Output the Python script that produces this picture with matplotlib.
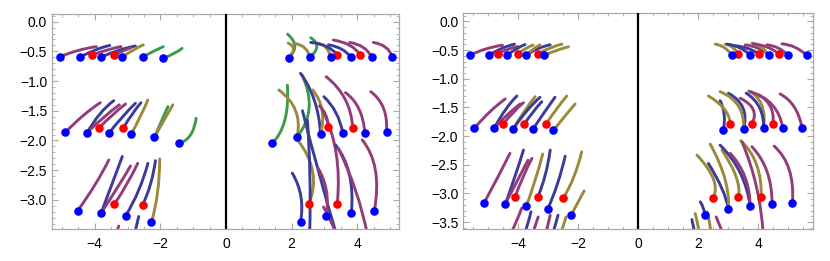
import matplotlib.pyplot as plt
from matplotlib.path import Path
from matplotlib.patches import PathPatch
from matplotlib.ticker import MultipleLocator, FuncFormatter

plt.rcParams['font.family'] = ['Liberation Sans', 'DejaVu Sans']

colors = {"p": "#943c7a", "n": "#3b3b98", "o": "#9a8a3a", "g": "#3d9a4c"}

# ---- left panel ----
left_blue_x = [-5.07, -4.44, -3.80, -3.16, -2.54, -1.91, 1.91, 2.55, 3.19, 3.80, 4.44, 5.07,
               -4.89, -4.23, -3.57, -2.89, -2.18, -1.42, 1.41, 2.17, 2.88, 3.56, 4.23, 4.89,
               -4.52, -3.80, -3.06, -2.27, 2.27, 3.05, 3.82, 4.52]
left_blue_y = [-0.594, -0.594, -0.594, -0.594, -0.594, -0.611, -0.606, -0.60, -0.60, -0.595, -0.595, -0.595,
               -1.862, -1.869, -1.879, -1.896, -1.946, -2.047, -2.047, -1.936, -1.896, -1.879, -1.869, -1.857,
               -3.182, -3.215, -3.271, -3.377, -3.377, -3.271, -3.215, -3.182]
left_red_x = [-4.07, -3.40, 3.39, 4.08, -3.86, -3.125, 3.12, 3.86, -3.40, -2.54, 2.52, 3.39]
left_red_y = [-0.56, -0.56, -0.556, -0.556, -1.785, -1.785, -1.778, -1.785, -3.069, -3.086, -3.074, -3.064]

# (colour, tail x, tail y, bend x, bend y, end x, end y)
left_paths = [
    ("p", -3.95, -0.42, -4.55, -0.47, -5.07, -0.594),
    ("n", -3.54, -0.40, -3.95, -0.45, -4.44, -0.594),
    ("p", -3.20, -0.42, -3.60, -0.46, -4.07, -0.56),
    ("n", -2.76, -0.41, -3.25, -0.46, -3.80, -0.594),
    ("p", -2.90, -0.44, -3.15, -0.49, -3.40, -0.56),
    ("o", -2.52, -0.39, -2.80, -0.46, -3.16, -0.594),
    ("g", -1.91, -0.42, -2.15, -0.48, -2.54, -0.594),
    ("g", -1.34, -0.45, -1.60, -0.56, -1.91, -0.611),
    ("g", 1.875, -0.21, 2.30, -0.41, 1.91, -0.606),
    ("o", 1.89, -0.36, 2.21, -0.44, 1.91, -0.606),
    ("g", 2.58, -0.27, 2.97, -0.41, 2.55, -0.60),
    ("o", 2.12, -0.37, 2.49, -0.41, 2.55, -0.60),
    ("o", 2.76, -0.36, 3.12, -0.39, 3.19, -0.60),
    ("n", 2.58, -0.35, 3.12, -0.375, 3.39, -0.556),
    ("n", 3.12, -0.39, 3.58, -0.43, 3.80, -0.595),
    ("p", 3.27, -0.31, 3.86, -0.36, 4.08, -0.556),
    ("p", 3.77, -0.35, 4.25, -0.39, 4.44, -0.595),
    ("p", 4.49, -0.35, 4.95, -0.39, 5.07, -0.595),
    ("p", -3.83, -1.364, -4.35, -1.55, -4.89, -1.862),
    ("n", -3.42, -1.33, -3.85, -1.50, -4.23, -1.869),
    ("p", -3.25, -1.40, -3.75, -1.60, -4.23, -1.869),
    ("p", -3.06, -1.385, -3.45, -1.55, -3.86, -1.785),
    ("n", -2.76, -1.374, -3.15, -1.58, -3.57, -1.879),
    ("n", -2.59, -1.364, -2.85, -1.53, -3.125, -1.785),
    ("o", -2.38, -1.318, -2.58, -1.58, -2.89, -1.896),
    ("g", -1.77, -1.43, -1.95, -1.65, -2.18, -1.946),
    ("o", -1.62, -1.40, -1.85, -1.62, -2.18, -1.946),
    ("g", -0.91, -1.626, -1.00, -1.98, -1.42, -2.047),
    ("g", 1.87, -1.07, 1.95, -1.75, 1.41, -2.047),
    ("o", 1.61, -1.15, 2.35, -1.45, 2.17, -1.936),
    ("g", 2.32, -0.90, 2.82, -1.49, 2.17, -1.936),
    ("n", 2.27, -0.87, 2.82, -1.28, 2.88, -1.896),
    ("o", 2.64, -1.15, 3.09, -1.45, 2.88, -1.896),
    ("n", 2.98, -1.263, 3.43, -1.49, 3.56, -1.879),
    ("p", 3.05, -0.926, 3.80, -1.25, 3.86, -1.785),
    ("p", 3.64, -1.195, 4.16, -1.40, 4.23, -1.869),
    ("p", 4.41, -1.178, 4.95, -1.40, 4.89, -1.857),
    ("p", 2.85, -1.42, 3.10, -1.55, 3.12, -1.778),
    ("p", -3.57, -2.328, -3.95, -2.75, -4.52, -3.182),
    ("n", -3.16, -2.27, -3.45, -2.70, -3.80, -3.215),
    ("p", -2.91, -2.43, -3.30, -2.80, -3.80, -3.215),
    ("p", -2.69, -2.385, -3.00, -2.75, -3.40, -3.069),
    ("n", -2.38, -2.385, -2.60, -2.85, -3.06, -3.271),
    ("n", -2.15, -2.34, -2.25, -2.75, -2.54, -3.086),
    ("o", -2.02, -2.31, -2.02, -2.90, -2.27, -3.377),
    ("p", -3.27, -3.44, -3.35, -3.60, -3.46, -3.76),
    ("n", -2.66, -3.28, -2.75, -3.50, -2.88, -3.76),
    ("n", 2.02, -2.55, 2.42, -2.92, 2.27, -3.377),
    ("o", 2.18, -1.99, 2.94, -2.53, 2.52, -3.074),
    ("n", 2.33, -1.50, 2.82, -2.58, 3.37, -3.59),
    ("n", 2.48, -1.655, 2.60, -2.60, 2.55, -3.55),
    ("p", 2.81, -2.468, 3.19, -2.83, 3.05, -3.271),
    ("p", 2.94, -1.487, 3.55, -2.16, 3.39, -3.064),
    ("n", 3.34, -2.076, 3.94, -2.50, 3.82, -3.215),
    ("p", 3.42, -2.13, 4.04, -2.83, 4.31, -3.59),
    ("p", 4.15, -1.99, 4.77, -2.41, 4.52, -3.182),
    ("p", 2.97, -3.12, 3.18, -3.31, 3.37, -3.59),
]

# ---- right panel ----
right_blue_x = [-5.60, -4.97, -4.36, -3.73, -3.12, 3.12, 3.74, 4.37, 4.99, 5.61,
                -5.46, -4.80, -4.16, -3.51, -2.82, 2.84, 3.51, 4.18, 4.82, 5.46,
                -5.13, -4.43, -3.73, -3.01, -2.23, 2.23, 3.01, 3.73, 4.46, 5.14]
right_blue_y = [-0.587, -0.587, -0.587, -0.587, -0.587, -0.587, -0.587, -0.587, -0.587, -0.587,
                -1.864, -1.864, -1.871, -1.881, -1.899, -1.893, -1.876, -1.864, -1.864, -1.853,
                -3.164, -3.187, -3.222, -3.269, -3.374, -3.379, -3.274, -3.222, -3.182, -3.164]
right_red_x = [-4.67, -4.00, -3.33, 3.34, 4.01, 4.68,
               -4.49, -3.79, -3.07, 3.07, 3.79, 4.49,
               -4.10, -3.34, -2.49, 2.49, 3.34, 4.10]
right_red_y = [-0.559, -0.559, -0.559, -0.559, -0.559, -0.559,
               -1.788, -1.788, -1.788, -1.788, -1.788, -1.788,
               -3.059, -3.059, -3.077, -3.087, -3.070, -3.059]

right_paths = [
    ("p", -4.52, -0.413, -5.10, -0.46, -5.60, -0.587),
    ("n", -4.12, -0.395, -4.55, -0.45, -4.97, -0.587),
    ("p", -4.01, -0.437, -4.35, -0.47, -4.67, -0.559),
    ("n", -3.77, -0.402, -4.05, -0.46, -4.36, -0.587),
    ("o", -3.50, -0.41, -3.75, -0.46, -4.00, -0.559),
    ("n", -2.93, -0.407, -3.35, -0.45, -3.73, -0.587),
    ("o", -3.27, -0.407, -3.50, -0.47, -3.73, -0.587),
    ("o", -2.54, -0.395, -2.90, -0.44, -3.33, -0.559),
    ("o", -2.32, -0.442, -2.70, -0.49, -3.12, -0.587),
    ("o", 2.57, -0.395, 2.90, -0.42, 3.12, -0.587),
    ("o", 2.90, -0.395, 3.15, -0.42, 3.34, -0.559),
    ("n", 2.96, -0.395, 3.40, -0.42, 3.74, -0.587),
    ("n", 3.23, -0.425, 3.65, -0.44, 4.01, -0.559),
    ("p", 3.57, -0.407, 4.00, -0.43, 4.37, -0.587),
    ("o", 3.79, -0.378, 4.10, -0.41, 4.37, -0.587),
    ("p", 3.84, -0.39, 4.30, -0.41, 4.68, -0.559),
    ("p", 4.29, -0.407, 4.70, -0.43, 4.99, -0.587),
    ("p", 4.79, -0.39, 5.25, -0.41, 5.61, -0.587),
    ("p", -4.43, -1.351, -4.95, -1.55, -5.46, -1.864),
    ("n", -4.04, -1.30, -4.40, -1.48, -4.80, -1.864),
    ("p", -3.93, -1.44, -4.35, -1.60, -4.80, -1.864),
    ("p", -3.82, -1.416, -4.15, -1.56, -4.49, -1.788),
    ("o", -3.43, -1.311, -3.80, -1.55, -4.16, -1.871),
    ("n", -3.27, -1.322, -3.70, -1.52, -4.16, -1.871),
    ("n", -3.21, -1.40, -3.50, -1.56, -3.79, -1.788),
    ("n", -2.77, -1.322, -3.10, -1.56, -3.51, -1.881),
    ("o", -2.38, -1.30, -2.70, -1.50, -3.07, -1.788),
    ("o", -2.10, -1.439, -2.40, -1.62, -2.82, -1.899),
    ("n", 2.73, -1.381, 2.95, -1.60, 2.84, -1.893),
    ("o", 2.34, -1.299, 3.04, -1.514, 3.07, -1.788),
    ("n", 3.01, -1.252, 3.73, -1.456, 3.51, -1.876),
    ("o", 2.73, -1.224, 3.57, -1.404, 3.51, -1.876),
    ("p", 3.40, -1.339, 4.07, -1.509, 3.79, -1.788),
    ("o", 3.68, -1.211, 4.30, -1.369, 4.18, -1.864),
    ("n", 3.60, -1.25, 4.20, -1.45, 4.18, -1.864),
    ("p", 4.01, -1.281, 4.57, -1.439, 4.49, -1.788),
    ("p", 3.73, -1.224, 4.67, -1.369, 4.82, -1.864),
    ("p", 4.73, -1.264, 5.30, -1.42, 5.46, -1.853),
    ("p", -4.27, -2.30, -4.65, -2.70, -5.13, -3.164),
    ("n", -3.82, -2.243, -4.15, -2.80, -4.43, -3.187),
    ("p", -3.54, -2.388, -3.85, -2.70, -4.10, -3.059),
    ("p", -3.67, -2.42, -4.05, -2.80, -4.43, -3.187),
    ("o", -3.18, -2.313, -3.45, -2.85, -3.73, -3.222),
    ("n", -2.93, -2.243, -3.05, -2.70, -3.34, -3.059),
    ("n", -2.43, -2.348, -2.65, -2.85, -3.01, -3.269),
    ("o", -1.88, -2.273, -2.10, -2.75, -2.49, -3.077),
    ("o", -1.80, -2.955, -2.05, -3.20, -2.23, -3.374),
    ("p", -3.88, -3.257, -4.05, -3.50, -4.27, -3.73),
    ("n", -3.57, -3.32, -3.65, -3.50, -3.80, -3.73),
    ("p", -3.33, -3.41, -3.42, -3.55, -3.53, -3.73),
    ("p", -2.93, -3.38, -3.00, -3.55, -3.10, -3.73),
    ("n", -2.67, -3.38, -2.75, -3.55, -2.87, -3.73),
    ("o", -2.40, -3.41, -2.48, -3.55, -2.60, -3.73),
    ("o", 1.96, -2.33, 2.80, -2.80, 2.49, -3.087),
    ("n", 2.07, -3.147, 2.20, -3.25, 2.23, -3.379),
    ("n", 2.34, -2.476, 2.90, -2.94, 3.01, -3.274),
    ("o", 2.40, -2.138, 3.07, -2.77, 3.01, -3.274),
    ("o", 2.79, -2.243, 3.47, -2.77, 3.34, -3.070),
    ("n", 2.73, -2.156, 3.57, -2.59, 3.73, -3.222),
    ("p", 3.07, -2.30, 3.73, -2.68, 3.73, -3.222),
    ("o", 3.42, -2.08, 4.13, -2.42, 4.10, -3.059),
    ("p", 3.79, -2.185, 4.47, -2.56, 4.46, -3.182),
    ("p", 4.53, -2.173, 5.23, -2.50, 5.14, -3.164),
    ("p", 3.46, -2.10, 4.07, -2.855, 4.17, -3.73),
    ("n", 1.79, -3.455, 1.85, -3.60, 1.90, -3.73),
    ("o", 1.90, -3.35, 2.00, -3.55, 2.05, -3.73),
    ("o", 2.30, -3.32, 2.40, -3.50, 2.43, -3.73),
    ("p", 2.60, -3.41, 2.75, -3.60, 2.85, -3.73),
]


def minus_fmt(fmt):
    return FuncFormatter(lambda v, pos: (fmt % v).replace('-', '\u2212'))


def draw_panel(ax, paths, bx, by, rx, ry, xlim, ylim):
    for c, x0, y0, cx, cy, x1, y1 in paths:
        path = Path([(x0, y0), (cx, cy), (x1, y1)], [Path.MOVETO, Path.CURVE3, Path.CURVE3])
        ax.add_patch(PathPatch(path, fc="none", ec=colors[c], lw=2.1, capstyle="round", zorder=2))
    ax.axvline(0, color="black", lw=1.6, zorder=3)
    ax.scatter(rx, ry, s=38, color="#ff0000", zorder=4, linewidths=0)
    ax.scatter(bx, by, s=38, color="#0000ff", zorder=5, linewidths=0)
    ax.set_xlim(*xlim)
    ax.set_ylim(*ylim)
    ax.xaxis.set_major_locator(MultipleLocator(2))
    ax.xaxis.set_minor_locator(MultipleLocator(0.5))
    ax.yaxis.set_major_locator(MultipleLocator(0.5))
    ax.yaxis.set_minor_locator(MultipleLocator(0.1))
    ax.xaxis.set_major_formatter(minus_fmt("%d"))
    ax.yaxis.set_major_formatter(minus_fmt("%.1f"))
    for s in ax.spines.values():
        s.set_color("#a8a8a8")
        s.set_linewidth(0.9)
    ax.tick_params(which="both", direction="in", top=True, right=True, color="#a8a8a8",
                   labelsize=10, labelcolor="black")
    ax.tick_params(which="major", length=4, width=0.8)
    ax.tick_params(which="minor", length=2, width=0.6)
    ax.tick_params(axis="x", pad=6)
    ax.tick_params(axis="y", pad=3.5)


fig = plt.figure(figsize=(8.3, 2.61), dpi=100)
ax1 = fig.add_axes([0.0627, 0.1226, 0.418, 0.824])
ax2 = fig.add_axes([0.558, 0.1226, 0.4217, 0.828])

draw_panel(ax1, left_paths, left_blue_x, left_blue_y, left_red_x, left_red_y, (-5.3, 5.27), (-3.49, 0.13))
draw_panel(ax2, right_paths, right_blue_x, right_blue_y, right_red_x, right_red_y, (-5.83, 5.83), (-3.62, 0.15))

fig.savefig("out.png", dpi=100)
